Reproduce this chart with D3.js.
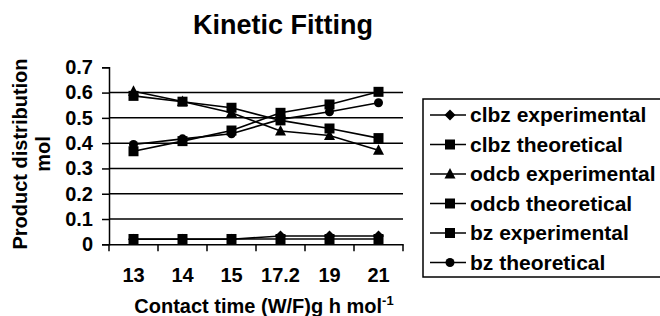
<!DOCTYPE html>
<html>
<head>
<meta charset="utf-8">
<script src="https://cdn.jsdelivr.net/npm/d3@7"></script>
<style>
  body { margin: 0; background: #fff; }
  svg text { font-family: "Liberation Sans", Arial, sans-serif; font-weight: bold; fill: #000; }
</style>
</head>
<body>
<script>
// data
const contactTimes = ["13", "14", "15", "17.2", "19", "21"];
const yTicks = [0, 0.1, 0.2, 0.3, 0.4, 0.5, 0.6, 0.7];
const gridValues = [0.1, 0.2, 0.3, 0.4, 0.5, 0.6];

const clbzExp  = [0.02, 0.02, 0.02, 0.033, 0.033, 0.033];
const clbzTheo = [0.021, 0.021, 0.021, 0.021, 0.021, 0.021];
const odcbExp  = [0.605, 0.565, 0.52, 0.448, 0.43, 0.372];
const odcbTheo = [0.587, 0.564, 0.54, 0.49, 0.458, 0.42];
const bzExp    = [0.368, 0.408, 0.45, 0.52, 0.553, 0.603];
const bzTheo   = [0.395, 0.417, 0.437, 0.494, 0.524, 0.56];

const seriesNames = ["clbz experimental", "clbz theoretical", "odcb experimental",
                     "odcb theoretical", "bz experimental", "bz theoretical"];
const seriesValues = [clbzExp, clbzTheo, odcbExp, odcbTheo, bzExp, bzTheo];
const seriesMarkers = ["diamond", "square", "triangle", "square", "square", "circle"];

const width = 660, height = 316;
const svg = d3.select("body").append("svg")
  .attr("width", width)
  .attr("height", height);

const x = d3.scaleBand().domain(contactTimes).range([109, 403]);
const y = d3.scaleLinear().domain([0, 0.7]).range([244.3, 67.3]);

// title
svg.append("text")
  .attr("x", 283).attr("y", 34)
  .attr("text-anchor", "middle")
  .style("font-size", "27px")
  .text("Kinetic Fitting");

// gridlines
svg.append("g").selectAll("line")
  .data(gridValues)
  .enter().append("line")
  .attr("x1", 109).attr("x2", 403)
  .attr("y1", d => y(d)).attr("y2", d => y(d))
  .attr("stroke", "#000").attr("stroke-width", 1.5);

// y axis
const yAxis = svg.append("g")
  .attr("transform", "translate(109,0)")
  .call(d3.axisLeft(y).tickValues(yTicks).tickSize(7).tickPadding(9).tickFormat(d3.format("")));
yAxis.selectAll("text").style("font-size", "20px");
yAxis.selectAll("line, path").attr("stroke", "#000").attr("stroke-width", 1.5);

// x axis (labels centred, ticks on band edges)
const xAxis = svg.append("g")
  .attr("transform", "translate(0,244.3)")
  .call(d3.axisBottom(x).tickSize(0).tickPadding(24).tickSizeOuter(0));
xAxis.selectAll("text").style("font-size", "20px");
xAxis.select("path").attr("stroke", "#000").attr("stroke-width", 1.5);
const edges = contactTimes.map(c => x(c)).concat([x.range()[1]]);
xAxis.selectAll(".edge")
  .data(edges)
  .enter().append("line")
  .attr("x1", d => d).attr("x2", d => d)
  .attr("y1", 0).attr("y2", 7)
  .attr("stroke", "#000").attr("stroke-width", 1.5);

// axis titles
const xt = svg.append("text")
  .attr("x", 264).attr("y", 313)
  .attr("text-anchor", "middle")
  .style("font-size", "20px");
xt.append("tspan").text("Contact time (W/F)g h mol");
xt.append("tspan").attr("dy", -8).style("font-size", "13px").text("-1");

const yt = svg.append("text")
  .attr("transform", "translate(27,154) rotate(-90)")
  .attr("text-anchor", "middle")
  .style("font-size", "20px");
yt.append("tspan").attr("x", 0).attr("y", 0).text("Product distribution");
yt.append("tspan").attr("x", 0).attr("y", 23).text("mol");

function marker(g, type) {
  if (type === "square") {
    g.append("rect").attr("x", -5).attr("y", -5).attr("width", 10).attr("height", 10);
  } else if (type === "diamond") {
    g.append("path").attr("d", "M0,-5.5L5.5,0L0,5.5L-5.5,0Z");
  } else if (type === "triangle") {
    g.append("path").attr("d", "M0,-6L5.5,4.5L-5.5,4.5Z");
  } else {
    g.append("circle").attr("r", 4.5);
  }
}

const line = d3.line()
  .x((d, i) => x(contactTimes[i]) + x.bandwidth() / 2)
  .y(d => y(d));

seriesValues.forEach((vals, s) => {
  const g = svg.append("g");
  g.append("path")
    .attr("d", line(vals))
    .attr("fill", "none")
    .attr("stroke", "#000")
    .attr("stroke-width", 1.6);
  vals.forEach((v, i) => {
    const m = g.append("g")
      .attr("transform", `translate(${x(contactTimes[i]) + x.bandwidth() / 2},${y(v)})`)
      .attr("fill", "#000");
    marker(m, seriesMarkers[s]);
  });
});

// legend
svg.append("rect")
  .attr("x", 423).attr("y", 99)
  .attr("width", 250).attr("height", 178)
  .attr("fill", "none").attr("stroke", "#000").attr("stroke-width", 1.5);

seriesNames.forEach((name, i) => {
  const ly = 115 + i * 29.5;
  const g = svg.append("g");
  g.append("line")
    .attr("x1", 430).attr("x2", 466)
    .attr("y1", ly).attr("y2", ly)
    .attr("stroke", "#000").attr("stroke-width", 1.6);
  const m = g.append("g").attr("transform", `translate(450,${ly})`).attr("fill", "#000");
  marker(m, seriesMarkers[i]);
  g.append("text")
    .attr("x", 470).attr("y", ly + 7)
    .style("font-size", "21px")
    .text(name);
});
</script>
</body>
</html>
